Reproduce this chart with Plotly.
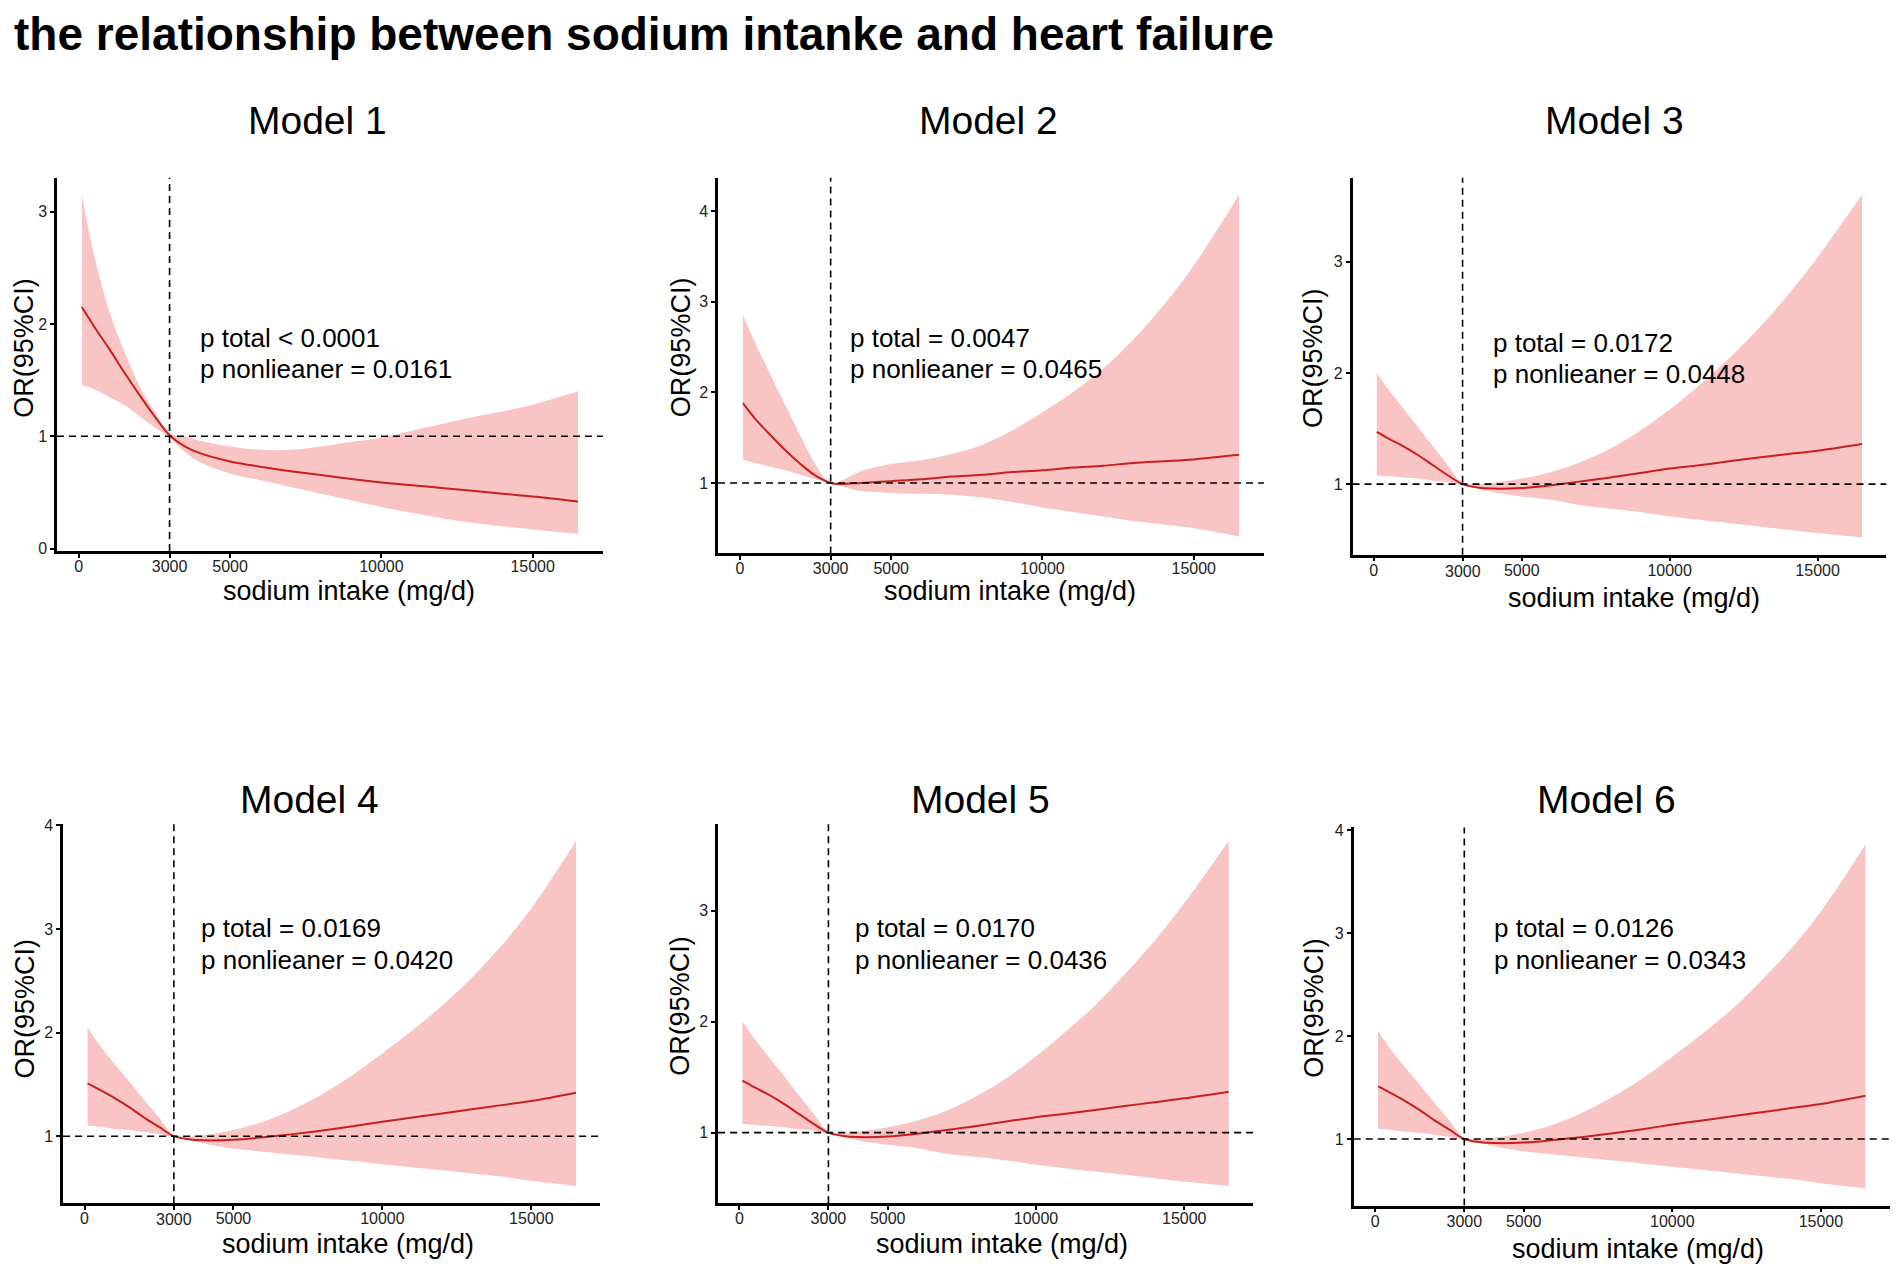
import plotly.graph_objects as go
from plotly.subplots import make_subplots

# sodium intake grid (mg/d) shared by all six models
sodium = [100, 500, 1000, 1500, 2000, 2500, 3000, 3500, 4000, 5000, 6000,
          7000, 8000, 9000, 10000, 11000, 12000, 13000, 14000, 15000, 16500]

# model 1
m1_or = [2.15, 1.98, 1.78, 1.57, 1.37, 1.18, 1.01, 0.91, 0.85, 0.776, 0.73,
         0.69, 0.655, 0.62, 0.59, 0.565, 0.54, 0.515, 0.488, 0.465, 0.42]
m1_lo = [1.46, 1.42, 1.35, 1.28, 1.18, 1.08, 0.99, 0.86, 0.77, 0.67, 0.61,
         0.55, 0.49, 0.43, 0.37, 0.32, 0.27, 0.23, 0.20, 0.17, 0.13]
m1_hi = [3.15, 2.62, 2.12, 1.76, 1.45, 1.22, 1.03, 1.00, 0.96, 0.91, 0.88,
         0.88, 0.91, 0.95, 0.99, 1.05, 1.11, 1.17, 1.22, 1.28, 1.40]

# model 2
m2_or = [1.88, 1.71, 1.53, 1.36, 1.21, 1.08, 1.00, 0.99, 1.00, 1.02, 1.04,
         1.07, 1.09, 1.12, 1.14, 1.17, 1.19, 1.22, 1.24, 1.26, 1.31]
m2_lo = [1.26, 1.22, 1.18, 1.14, 1.09, 1.04, 1.00, 0.95, 0.91, 0.89, 0.88,
         0.87, 0.84, 0.79, 0.73, 0.68, 0.63, 0.58, 0.54, 0.50, 0.41]
m2_hi = [2.85, 2.55, 2.20, 1.86, 1.52, 1.20, 1.00, 1.05, 1.13, 1.21, 1.25,
         1.32, 1.42, 1.58, 1.78, 2.00, 2.26, 2.58, 2.96, 3.40, 4.18]

# model 3
m3_or = [1.47, 1.41, 1.34, 1.26, 1.17, 1.08, 1.00, 0.97, 0.96, 0.965, 0.99,
         1.025, 1.06, 1.10, 1.14, 1.17, 1.205, 1.24, 1.27, 1.30, 1.36]
m3_lo = [1.08, 1.07, 1.06, 1.05, 1.03, 1.02, 0.99, 0.96, 0.93, 0.89, 0.86,
         0.81, 0.78, 0.75, 0.71, 0.68, 0.65, 0.62, 0.59, 0.56, 0.52]
m3_hi = [2.00, 1.85, 1.68, 1.51, 1.34, 1.17, 1.01, 1.00, 1.01, 1.05, 1.11,
         1.20, 1.32, 1.48, 1.67, 1.89, 2.13, 2.40, 2.70, 3.04, 3.60]

# model 4
m4_or = [1.51, 1.45, 1.37, 1.28, 1.18, 1.09, 1.00, 0.97, 0.96, 0.965, 0.99,
         1.02, 1.055, 1.095, 1.14, 1.18, 1.22, 1.26, 1.30, 1.34, 1.42]
m4_lo = [1.10, 1.09, 1.07, 1.06, 1.04, 1.02, 0.99, 0.96, 0.93, 0.88, 0.85,
         0.82, 0.79, 0.76, 0.73, 0.70, 0.67, 0.64, 0.61, 0.57, 0.52]
m4_hi = [2.05, 1.88, 1.70, 1.53, 1.35, 1.18, 1.01, 1.00, 1.01, 1.06, 1.14,
         1.26, 1.41, 1.59, 1.80, 2.02, 2.26, 2.53, 2.84, 3.20, 3.85]

# model 5
m5_or = [1.47, 1.41, 1.34, 1.26, 1.17, 1.08, 1.00, 0.97, 0.96, 0.965, 0.99,
         1.025, 1.06, 1.10, 1.14, 1.17, 1.205, 1.24, 1.275, 1.31, 1.37]
m5_lo = [1.08, 1.07, 1.06, 1.05, 1.03, 1.02, 0.99, 0.96, 0.93, 0.89, 0.86,
         0.81, 0.78, 0.75, 0.71, 0.68, 0.65, 0.62, 0.59, 0.56, 0.52]
m5_hi = [2.00, 1.85, 1.68, 1.51, 1.34, 1.17, 1.01, 1.00, 1.01, 1.05, 1.11,
         1.20, 1.33, 1.49, 1.69, 1.91, 2.15, 2.43, 2.73, 3.07, 3.63]

# model 6
m6_or = [1.51, 1.45, 1.37, 1.28, 1.18, 1.09, 1.00, 0.97, 0.96, 0.965, 0.99,
         1.02, 1.055, 1.095, 1.14, 1.18, 1.22, 1.26, 1.30, 1.34, 1.42]
m6_lo = [1.10, 1.09, 1.07, 1.06, 1.04, 1.02, 0.99, 0.96, 0.93, 0.88, 0.85,
         0.82, 0.79, 0.76, 0.73, 0.70, 0.67, 0.64, 0.61, 0.57, 0.52]
m6_hi = [2.05, 1.88, 1.70, 1.53, 1.35, 1.18, 1.01, 1.00, 1.01, 1.06, 1.14,
         1.26, 1.41, 1.59, 1.80, 2.02, 2.26, 2.54, 2.85, 3.21, 3.86]

model_names = ["Model 1", "Model 2", "Model 3", "Model 4", "Model 5", "Model 6"]
p_total = ["p total < 0.0001", "p total = 0.0047", "p total = 0.0172",
           "p total = 0.0169", "p total = 0.0170", "p total = 0.0126"]
p_nonlin = ["p nonlieaner = 0.0161", "p nonlieaner = 0.0465", "p nonlieaner = 0.0448",
            "p nonlieaner = 0.0420", "p nonlieaner = 0.0436", "p nonlieaner = 0.0343"]
x_ticks = [0, 3000, 5000, 10000, 15000]
ref_x = 3000
ref_or = 1

ors = [m1_or, m2_or, m3_or, m4_or, m5_or, m6_or]
los = [m1_lo, m2_lo, m3_lo, m4_lo, m5_lo, m6_lo]
his = [m1_hi, m2_hi, m3_hi, m4_hi, m5_hi, m6_hi]

# figure sits inside the 8px body margin of the page
W, H, M = 1902, 1274, 8
FW, FH = W - 2 * M, H - 2 * M

# positions measured on a 1568x1050 view of the reference
def px(x):
    return (x * W / 1568 - M) / FW

def py(y):
    y = (y - 6.2) / 0.9907  # small vertical correction seen on the first renders
    return 1 - (y * H / 1050 - M) / FH

# (left, right, top, bottom) of each panel's axes
boxes = [(47, 497, 147, 455), (592, 1042, 147, 457), (1115, 1555, 147, 458),
         (52, 495, 680, 993), (592, 1033, 680, 993), (1116, 1558, 683, 995)]
title_pos = [(262, 100), (815, 100), (1331, 100), (255, 660), (808, 660), (1324, 660)]
text_pos = [(163, 279), (699, 279), (1229, 283), (164, 766), (703, 766), (1230, 766)]
xlab_pos = [(288, 488), (833, 488), (1347, 494), (287, 1027), (826, 1027), (1350, 1031)]
ylab_pos = [(20, 287), (562, 287), (1083, 296), (21, 832), (560, 830), (1083, 832)]
low_3000 = [2, 3]  # panels whose "3000" label sits a little lower

line_red = "#C8201F"
band = "#F8C4C4"
font = "Liberation Sans, Arial, Helvetica, sans-serif"
tick_font = dict(size=16, color="#222222", family=font)

fig = make_subplots(rows=2, cols=3)

span = sodium[-1] - sodium[0]
x_range = [sodium[0] - 0.05 * span, sodium[-1] + 0.05 * span]
dash = dict(color="black", width=1.6, dash="7px,5px")

for i in range(6):
    r, c = i // 3 + 1, i % 3 + 1
    fig.add_trace(go.Scatter(x=sodium, y=los[i], mode="lines",
                             line=dict(width=0, shape="spline", color=band),
                             showlegend=False, hoverinfo="skip"), row=r, col=c)
    fig.add_trace(go.Scatter(x=sodium, y=his[i], mode="lines", fill="tonexty",
                             fillcolor=band,
                             line=dict(width=0, shape="spline", color=band),
                             showlegend=False, hoverinfo="skip"), row=r, col=c)
    fig.add_trace(go.Scatter(x=sodium, y=ors[i], mode="lines",
                             line=dict(width=2, shape="spline", color=line_red),
                             showlegend=False), row=r, col=c)

    fig.add_vline(x=ref_x, line=dash, row=r, col=c)
    fig.add_hline(y=ref_or, line=dash, row=r, col=c)

    lo_y, hi_y = min(los[i]), max(his[i])
    pad = 0.05 * (hi_y - lo_y)
    left, right, top, bottom = boxes[i]
    n = "" if i == 0 else str(i + 1)
    labels = [str(v) for v in x_ticks]
    if i in low_3000:
        labels[1] = ""
        fig.add_annotation(x=3000, xref="x" + n, y=py(bottom), yref="paper",
                           yanchor="top", yshift=-6, text="3000", showarrow=False,
                           font=tick_font)
    fig.layout["xaxis" + n].update(
        domain=[px(left), px(right)], range=x_range,
        tickvals=x_ticks, ticktext=labels, ticklabelstandoff=-5)
    fig.layout["yaxis" + n].update(
        domain=[py(bottom), py(top)], range=[lo_y - pad, hi_y + pad],
        tick0=0, dtick=1)

    fig.add_annotation(x=px(title_pos[i][0]), y=py(title_pos[i][1]), xref="paper", yref="paper",
                       xanchor="center", yanchor="middle",
                       text=model_names[i], showarrow=False,
                       font=dict(size=39, color="black", family=font))
    fig.add_annotation(x=px(text_pos[i][0]), y=py(text_pos[i][1]), xref="paper", yref="paper",
                       xanchor="left", yanchor="middle",
                       text=p_total[i], showarrow=False,
                       font=dict(size=26, color="black", family=font))
    fig.add_annotation(x=px(text_pos[i][0]), y=py(text_pos[i][1] + 26), xref="paper", yref="paper",
                       xanchor="left", yanchor="middle",
                       text=p_nonlin[i], showarrow=False,
                       font=dict(size=26, color="black", family=font))
    fig.add_annotation(x=px(xlab_pos[i][0]), y=py(xlab_pos[i][1]), xref="paper", yref="paper",
                       xanchor="center", yanchor="middle",
                       text="sodium intake (mg/d)", showarrow=False,
                       font=dict(size=27, color="black", family=font))
    fig.add_annotation(x=px(ylab_pos[i][0]), y=py(ylab_pos[i][1]), xref="paper", yref="paper",
                       xanchor="center", yanchor="middle",
                       text="OR(95%CI)", showarrow=False, textangle=-90,
                       font=dict(size=27, color="black", family=font))

axis_style = dict(showline=True, linecolor="black", linewidth=2.5, ticks="outside",
                  ticklen=4, tickwidth=1.5, tickcolor="black", showgrid=False,
                  zeroline=False, tickfont=tick_font)
fig.update_xaxes(**axis_style)
fig.update_yaxes(**axis_style)

fig.add_annotation(x=px(10), y=py(28), xref="paper", yref="paper",
                   xanchor="left", yanchor="middle",
                   text="<b>the relationship between sodium intanke and heart failure</b>",
                   showarrow=False, font=dict(size=46, color="black", family=font))

fig.update_layout(width=FW, height=FH, margin=dict(l=0, r=0, t=0, b=0),
                  plot_bgcolor="white", paper_bgcolor="white", showlegend=False)

fig.write_html("out.html")
